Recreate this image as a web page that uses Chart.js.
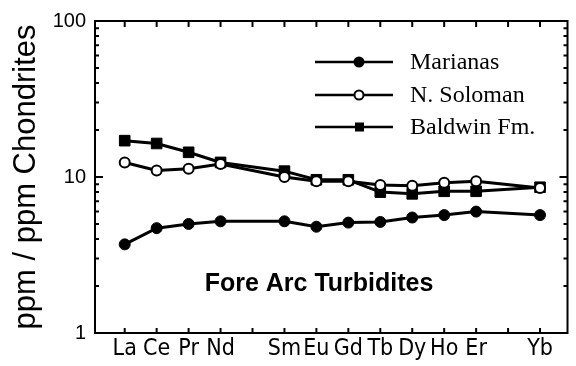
<!DOCTYPE html>
<html>
<head>
<meta charset="utf-8">
<script src="https://cdn.jsdelivr.net/npm/chart.js@4.4.1/dist/chart.umd.min.js"></script>
<style>
html, body { margin: 0; padding: 0; background: #fff; }
#wrap { width: 576px; height: 366px; }
</style>
</head>
<body>
<div id="wrap"><canvas id="ree"></canvas></div>
<script>
// REE positions along x, blank = Pm / Tm (no data)
var elements = ['La', 'Ce', 'Pr', 'Nd', '', 'Sm', 'Eu', 'Gd', 'Tb', 'Dy', 'Ho', 'Er', '', 'Yb'];
var marianas = [3.7, 4.7, 5.0, 5.2, null, 5.2, 4.8, 5.1, 5.15, 5.5, 5.7, 6.0, null, 5.7];
var nSoloman = [12.4, 11.0, 11.3, 12.1, null, 10.0, 9.4, 9.4, 8.9, 8.8, 9.2, 9.4, null, 8.5];
var baldwin = [17.1, 16.4, 14.4, 12.4, null, 10.9, 9.6, 9.6, 8.0, 7.8, 8.1, 8.1, null, 8.6];
var yLabels = [1, 10, 100];
var seriesNames = ['Marianas', 'N. Soloman', 'Baldwin Fm.'];

function toPoints(arr) {
  var pts = [];
  arr.forEach(function (v, i) {
    if (v !== null) pts.push({ x: i, y: v });
  });
  return pts;
}

var INK = '#000';

// frame + inside tick marks
var frame = {
  id: 'frame',
  afterDraw: function (chart) {
    var ctx = chart.ctx, a = chart.chartArea;
    var xs = chart.scales.x, ys = chart.scales.y;
    ctx.save();
    ctx.strokeStyle = INK;
    ctx.lineWidth = 2;
    ctx.strokeRect(a.left, a.top, a.right - a.left, a.bottom - a.top);
    ctx.beginPath();
    for (var i = 0; i < elements.length; i++) {
      var px = xs.getPixelForValue(i);
      ctx.moveTo(px, a.top); ctx.lineTo(px, a.top + 6);
      ctx.moveTo(px, a.bottom); ctx.lineTo(px, a.bottom - 5);
    }
    for (var d = 1; d <= 10; d *= 10) {
      for (var k = 1; k <= 9; k++) {
        var v = k * d;
        if (v <= 1 || v >= 100) continue;
        var py = ys.getPixelForValue(v);
        var len = (k === 1) ? 8 : 4;
        ctx.moveTo(a.left, py); ctx.lineTo(a.left + len, py);
        ctx.moveTo(a.right, py); ctx.lineTo(a.right - len, py);
      }
    }
    ctx.stroke();

    ctx.fillStyle = INK;
    ctx.font = 'bold 25px "Liberation Sans", Arial, sans-serif';
    ctx.textAlign = 'center';
    ctx.textBaseline = 'middle';
    ctx.fillText('Fore Arc Turbidites', 319, 284);
    ctx.restore();
  }
};

// legend: line with marker in the middle
var legendBox = {
  id: 'legendBox',
  afterDraw: function (chart) {
    var ctx = chart.ctx;
    var rows = [62, 95, 127];
    ctx.save();
    chart.data.datasets.forEach(function (ds, i) {
      var y = rows[i];
      ctx.strokeStyle = INK;
      ctx.lineWidth = 2.5;
      ctx.beginPath();
      ctx.moveTo(315, y); ctx.lineTo(393, y);
      ctx.stroke();
      ctx.beginPath();
      if (ds.pointStyle === 'rect') {
        ctx.fillStyle = INK;
        ctx.fillRect(355, y - 4.5, 9, 9);
      } else {
        ctx.arc(359, y, 4.5, 0, Math.PI * 2);
        ctx.fillStyle = ds.pointBackgroundColor;
        ctx.fill();
        ctx.lineWidth = 2;
        ctx.stroke();
      }
      ctx.fillStyle = INK;
      ctx.font = '24px "Liberation Serif", "Times New Roman", serif';
      ctx.textAlign = 'left';
      ctx.textBaseline = 'middle';
      ctx.fillText(seriesNames[i], 410, y + 1);
    });
    ctx.restore();
  }
};

var ctx_ree = document.getElementById('ree');

var chart_ree = new Chart(ctx_ree, {
  type: 'line',
  data: {
    datasets: [{
      label: seriesNames[0],
      data: toPoints(marianas),
      borderColor: INK,
      borderWidth: 3,
      pointStyle: 'circle',
      pointRadius: 5.5,
      pointBackgroundColor: INK,
      pointBorderColor: INK,
      pointBorderWidth: 1
    }, {
      label: seriesNames[1],
      data: toPoints(nSoloman),
      borderColor: INK,
      borderWidth: 3,
      pointStyle: 'circle',
      pointRadius: 5,
      pointBackgroundColor: '#fff',
      pointBorderColor: INK,
      pointBorderWidth: 2
    }, {
      label: seriesNames[2],
      data: toPoints(baldwin),
      borderColor: INK,
      borderWidth: 3,
      pointStyle: 'rect',
      pointRadius: 7.5,
      pointBackgroundColor: INK,
      pointBorderColor: INK,
      pointBorderWidth: 1
    }]
  },
  options: {
    responsive: true,
    maintainAspectRatio: false,
    animation: false,
    layout: {
      padding: { left: 0, top: 20, right: 5, bottom: 0 }
    },
    scales: {
      x: {
        type: 'linear',
        min: -0.93,
        max: 13.86,
        grid: { display: false, drawTicks: false },
        border: { display: false },
        afterBuildTicks: function (s) {
          s.ticks = elements.map(function (e, i) { return { value: i }; });
        },
        afterFit: function (s) { s.height = 33; },
        ticks: {
          autoSkip: false,
          maxRotation: 0,
          padding: 2,
          color: INK,
          font: { family: '"DejaVu Sans Condensed", "Liberation Sans Narrow", sans-serif', size: 23 },
          callback: function (v) { return elements[v]; }
        }
      },
      y: {
        type: 'logarithmic',
        min: 1,
        max: 100,
        grid: { display: false, drawTicks: false },
        border: { display: false },
        afterBuildTicks: function (s) {
          s.ticks = yLabels.map(function (v) { return { value: v }; });
        },
        afterFit: function (s) { s.width = 95; },
        ticks: {
          padding: 9,
          color: INK,
          font: { family: '"Liberation Sans", Arial, sans-serif', size: 20 },
          callback: function (v) { return String(v); }
        },
        title: {
          display: true,
          text: 'ppm / ppm Chondrites',
          color: INK,
          padding: { top: 8, bottom: 0 },
          font: { family: '"Liberation Sans", Arial, sans-serif', size: 31 }
        }
      }
    },
    plugins: {
      legend: { display: false },
      tooltip: { enabled: false }
    }
  },
  plugins: [frame, legendBox]
});
</script>
</body>
</html>
